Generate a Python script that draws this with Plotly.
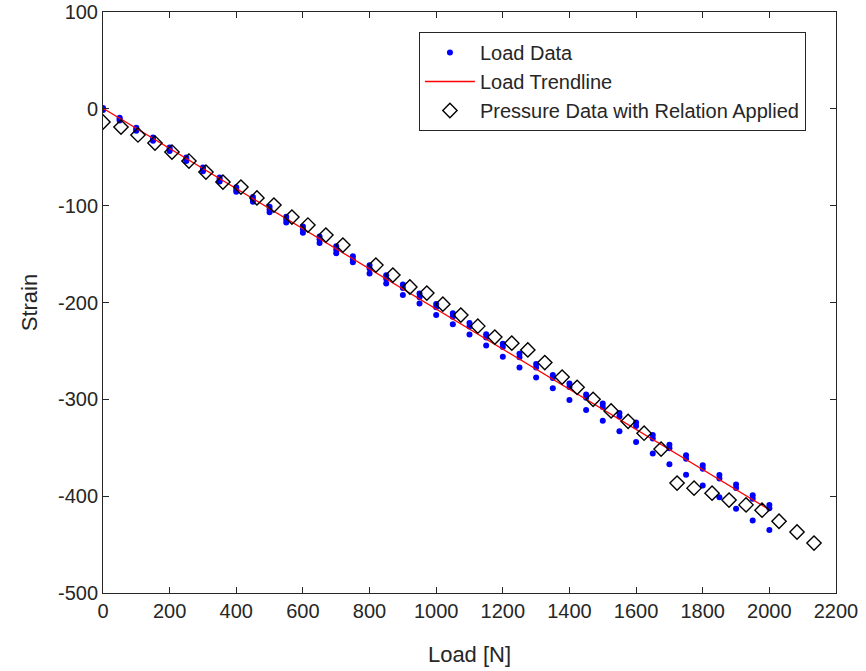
import plotly.graph_objects as go

# Load levels [N] for load-cell readings
load_levels = [0, 50, 100, 150, 200, 250, 300, 350, 400, 450, 500, 550, 600, 650, 700,
               750, 800, 850, 900, 950, 1000, 1050, 1100, 1150, 1200, 1250, 1300, 1350,
               1400, 1450, 1500, 1550, 1600, 1650, 1700, 1750, 1800, 1850, 1900, 1950, 2000]

# Three strain readings per load level
strain_run1 = [0.8, -9.2, -19.5, -29.6, -40.0, -50.2, -60.5, -70.8, -81.0, -91.0, -101.2,
               -111.5, -121.6, -131.8, -142.0, -152.3, -161.6, -171.9, -181.4, -190.8,
               -201.5, -211.2, -221.2, -232.8, -242.5, -253.0, -263.4, -274.8, -283.6,
               -295.0, -304.2, -314.2, -324.0, -336.8, -347.0, -357.8, -368.0, -378.2,
               -388.0, -399.0, -409.0]
strain_run2 = [-0.4, -10.8, -21.3, -31.5, -42.0, -52.3, -62.7, -73.0, -83.5, -93.8, -104.0,
               -114.3, -124.5, -134.8, -145.4, -155.6, -165.0, -175.4, -185.0, -194.5,
               -205.0, -214.8, -224.8, -236.2, -246.0, -256.5, -267.0, -278.0, -287.2,
               -298.4, -307.8, -317.6, -327.6, -340.4, -350.6, -361.4, -371.6, -381.8,
               -391.6, -402.6, -412.6]
strain_run3 = [-1.2, -12.0, -22.6, -33.0, -43.5, -54.0, -64.5, -75.0, -85.6, -96.0, -106.8,
               -117.4, -128.0, -138.6, -149.2, -158.4, -170.0, -180.3, -192.3, -201.0,
               -213.0, -222.5, -233.0, -244.5, -256.0, -267.0, -277.5, -288.5, -300.8,
               -311.0, -322.0, -333.0, -344.0, -356.0, -367.0, -378.0, -389.0, -401.0,
               -413.0, -425.0, -435.0]

# Trendline end points
trend_load = [0, 2000]
trend_strain = [0.5, -414.0]

# Pressure data converted with relation
pressure_load = [0, 54, 105, 156, 207, 258, 309, 360, 414, 462, 513, 567, 615, 669, 720,
                 819, 870, 921, 972, 1020, 1074, 1125, 1176, 1227, 1275, 1326, 1378, 1423,
                 1471, 1525, 1576, 1624, 1675, 1723, 1774, 1828, 1879, 1930, 1978, 2029,
                 2083, 2134]
pressure_strain = [-13.6, -18.8, -27.0, -35.3, -44.6, -53.9, -65.3, -75.6, -80.8, -92.0,
                   -99.4, -111.8, -120.0, -130.4, -140.7, -161.4, -171.7, -184.0, -190.3,
                   -201.7, -213.0, -224.4, -235.7, -242.0, -249.0, -262.0, -277.0, -287.6,
                   -300.0, -312.0, -322.7, -335.0, -351.4, -386.5, -391.7, -396.9, -404.0,
                   -409.0, -414.5, -425.9, -437.0, -448.4]

x_ticks = [0, 200, 400, 600, 800, 1000, 1200, 1400, 1600, 1800, 2000, 2200]
y_ticks = [100, 0, -100, -200, -300, -400, -500]

load_x = []
load_y = []
for runs in (strain_run1, strain_run2, strain_run3):
    load_x += load_levels
    load_y += runs

TXT = "#262626"
FONT = "Liberation Sans, Arial, Helvetica, sans-serif"

fig = go.Figure()
fig.add_trace(go.Scatter(
    x=load_x, y=load_y, mode="markers", name="Load Data",
    marker=dict(color="#0000ff", size=6, line=dict(width=0)),
    legendgroup="a"))
fig.add_trace(go.Scatter(
    x=trend_load, y=trend_strain, mode="lines", name="Load Trendline",
    line=dict(color="#ff0000", width=1.3), legendgroup="b"))
fig.add_trace(go.Scatter(
    x=pressure_load, y=pressure_strain, mode="markers",
    name="Pressure Data with Relation Applied",
    marker=dict(symbol="diamond-open", color="#000000", size=11,
                line=dict(color="#000000", width=1.4)),
    legendgroup="c"))

axis_common = dict(
    showline=True, linecolor=TXT, linewidth=1, mirror="ticks",
    ticks="inside", ticklen=6, tickcolor=TXT, tickwidth=1,
    showgrid=False, zeroline=False, automargin=False,
    ticklabeloverflow="allow",
    tickfont=dict(family=FONT, size=20, color=TXT),
)

fig.update_layout(
    width=866, height=671,
    margin=dict(l=103, r=30, t=12, b=78),
    paper_bgcolor="white", plot_bgcolor="white",
    font=dict(family=FONT, color=TXT),
    xaxis=dict(range=[0, 2200], tickvals=x_ticks,
               ticktext=[str(v) for v in x_ticks],
               title=dict(text="Load [N]", font=dict(family=FONT, size=22, color=TXT),
                          standoff=25),
               **axis_common),
    yaxis=dict(range=[-500, 100], tickvals=y_ticks,
               ticktext=[str(v) for v in y_ticks],
               title=dict(text="Strain", font=dict(family=FONT, size=22, color=TXT),
                          standoff=14),
               **axis_common),
    legend=dict(
        x=0.431, y=0.9656, xanchor="left", yanchor="top",
        bgcolor="white", bordercolor=TXT, borderwidth=1,
        font=dict(family=FONT, size=20, color=TXT),
        traceorder="grouped", tracegroupgap=0, itemwidth=50,
    ),
    showlegend=True,
)

fig.write_html(
    "out.html",
    config={"displayModeBar": False},
    post_script="document.body.style.margin='0';document.body.style.padding='0';",
)
